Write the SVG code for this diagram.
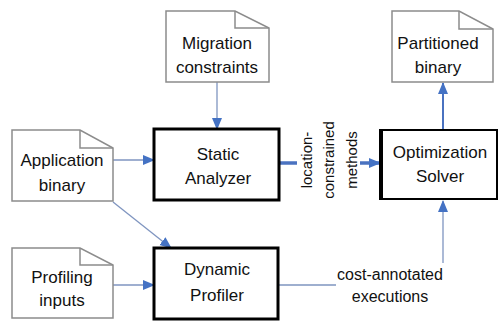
<svg xmlns="http://www.w3.org/2000/svg" width="502" height="323" viewBox="0 0 502 323">
<style>
  .doc{fill:#fff;stroke:#8c8c8c;stroke-width:1.5}
  .fold{fill:none;stroke:#8c8c8c;stroke-width:1.5}
  .box{fill:#fff;stroke:#000;stroke-width:3}
  .t{font-family:"Liberation Sans",Arial,sans-serif;font-size:17px;fill:#111;text-anchor:middle}
  .lbl{font-family:"Liberation Sans",Arial,sans-serif;font-size:16px;fill:#111;text-anchor:middle}
  .rot{font-family:"Liberation Sans",Arial,sans-serif;font-size:15px;fill:#111;text-anchor:middle}
  .thin{fill:none;stroke:#7f95c0;stroke-width:1.3}
  .mid{fill:none;stroke:#4a72c0;stroke-width:2}
  .thick{fill:none;stroke:#4a72c0;stroke-width:3.5}
</style>
<defs>
  <marker id="ah" markerUnits="userSpaceOnUse" markerWidth="12" markerHeight="12" viewBox="0 0 12 12" refX="11" refY="6" orient="auto">
    <path d="M0,1 L12,6 L0,11 Z" fill="#4472c4"/>
  </marker>
</defs>

<g id="connectors">
  <path class="thin" d="M217,82 V129" marker-end="url(#ah)"/>
  <path class="thin" d="M113,160 H154" marker-end="url(#ah)"/>
  <path class="thin" d="M113,202 L171,248" marker-end="url(#ah)"/>
  <path class="thin" d="M113,285 H154" marker-end="url(#ah)"/>
  <path class="thin" d="M278,285 H443 V201" marker-end="url(#ah)"/>
  <path class="mid" d="M443,130 V83" marker-end="url(#ah)"/>
  <path class="thick" d="M279,163 H380" marker-end="url(#ah)"/>
</g>

<g id="migration-constraints">
  <path class="doc" d="M166,11 H235 L269,28 V82 H166 Z"/>
  <path class="fold" d="M235,11 V28 H269"/>
  <text class="t" x="217" y="49">Migration</text>
  <text class="t" x="217" y="73">constraints</text>
</g>

<g id="partitioned-binary">
  <path class="doc" d="M392,11 H459 L493,29 V82 H392 Z"/>
  <path class="fold" d="M459,11 V29 H493"/>
  <text class="t" x="438" y="49">Partitioned</text>
  <text class="t" x="438" y="73">binary</text>
</g>

<g id="application-binary">
  <path class="doc" d="M12,130 H80 L113,148 V201 H12 Z"/>
  <path class="fold" d="M80,130 V148 H113"/>
  <text class="t" x="62" y="166">Application</text>
  <text class="t" x="62" y="191">binary</text>
</g>

<g id="profiling-inputs">
  <path class="doc" d="M12,248 H80 L113,265 V318 H12 Z"/>
  <path class="fold" d="M80,248 V265 H113"/>
  <text class="t" x="62" y="283">Profiling</text>
  <text class="t" x="62" y="306">inputs</text>
</g>

<g id="static-analyzer">
  <rect class="box" x="154" y="129" width="125" height="71"/>
  <text class="t" x="218" y="160">Static</text>
  <text class="t" x="218" y="184">Analyzer</text>
</g>

<g id="dynamic-profiler">
  <rect class="box" x="154" y="248" width="124" height="71"/>
  <text class="t" x="217" y="275">Dynamic</text>
  <text class="t" x="217" y="301">Profiler</text>
</g>

<g id="optimization-solver">
  <rect x="380" y="130" width="117" height="69" fill="#fff" stroke="#000" stroke-width="2"/>
  <line x1="381" y1="129" x2="381" y2="200" stroke="#000" stroke-width="4"/>
  <text class="t" x="440" y="158">Optimization</text>
  <text class="t" x="440" y="182">Solver</text>
</g>

<g id="label-location">
  <rect x="297" y="112" width="63" height="96" fill="#fff"/>
  <g transform="translate(329,160) rotate(-90)">
    <text class="rot" x="0" y="-17">location-</text>
    <text class="rot" x="0" y="5">constrained</text>
    <text class="rot" x="0" y="28">methods</text>
  </g>
</g>

<g id="label-cost">
  <rect x="336" y="263" width="110" height="44" fill="#fff"/>
  <text class="lbl" x="390" y="280">cost-annotated</text>
  <text class="lbl" x="390" y="302">executions</text>
</g>
</svg>
